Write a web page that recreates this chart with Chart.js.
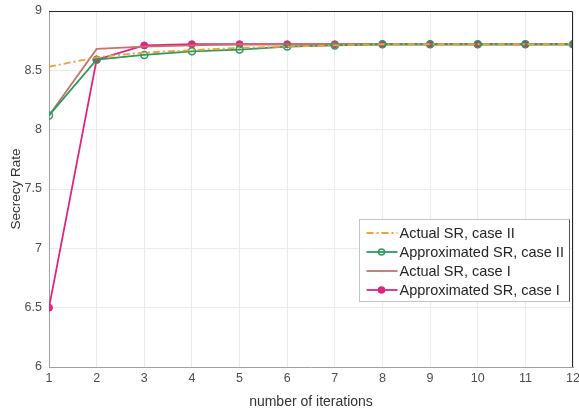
<!DOCTYPE html>
<html lang="en">
<head>
    <meta charset="UTF-8">
    <title>Secrecy Rate vs Iterations</title>
    <script src="https://cdn.jsdelivr.net/npm/chart.js"></script>
    <style>
        body { margin: 0; padding: 0; background: #ffffff; }
        .chart-container { position: relative; width: 579px; height: 411px; }
    </style>
</head>
<body>
    <div class="chart-container">
        <canvas id="srChart"></canvas>
    </div>

    <script>
        // values
        const iterations = [1, 2, 3, 4, 5, 6, 7, 8, 9, 10, 11, 12];
        const actualCaseII = [8.53, 8.61, 8.65, 8.67, 8.69, 8.70, 8.71, 8.72, 8.72, 8.72, 8.72, 8.72];
        const approxCaseII = [8.12, 8.59, 8.63, 8.66, 8.675, 8.70, 8.71, 8.72, 8.72, 8.72, 8.72, 8.72];
        const actualCaseI = [8.12, 8.68, 8.70, 8.71, 8.72, 8.72, 8.72, 8.72, 8.72, 8.72, 8.72, 8.72];
        const approxCaseI = [6.5, 8.59, 8.71, 8.72, 8.72, 8.72, 8.72, 8.72, 8.72, 8.72, 8.72, 8.72];
        const yTicks = [6, 6.5, 7, 7.5, 8, 8.5, 9];

        const seriesNames = ['Actual SR, case II', 'Approximated SR, case II', 'Actual SR, case I', 'Approximated SR, case I'];
        const colors = ['#eda23a', '#2e9a5c', '#c9706e', '#e0237f'];

        const toXY = arr => arr.map((v, i) => ({ x: iterations[i], y: v }));
        const fontFamily = '"Liberation Sans", Arial, sans-serif';

        // matlab style box + legend
        const boxAndLegend = {
            id: 'boxAndLegend',
            afterDraw(chart) {
                const { ctx, chartArea: a } = chart;
                ctx.save();
                ctx.strokeStyle = '#262626';
                ctx.lineWidth = 1;
                ctx.beginPath();
                ctx.moveTo(a.left, a.top + 0.5);
                ctx.lineTo(a.right - 0.5, a.top + 0.5);
                ctx.lineTo(a.right - 0.5, a.bottom);
                ctx.stroke();

                // legend
                const lx = 359.5, ly = 219.5, lw = 210, lh = 82;
                ctx.fillStyle = '#ffffff';
                ctx.fillRect(lx, ly, lw, lh);
                ctx.strokeStyle = '#c4c4c4';
                ctx.strokeRect(lx, ly, lw, lh);
                ctx.strokeStyle = '#555';
                ctx.beginPath();
                ctx.moveTo(lx + lw, ly);
                ctx.lineTo(lx + lw, ly + lh);
                ctx.stroke();

                ctx.font = '14.5px ' + fontFamily;
                ctx.textBaseline = 'middle';
                const rowY = [233, 252, 271, 290];
                chart.data.datasets.forEach((ds, i) => {
                    const y = rowY[i];
                    ctx.strokeStyle = ds.borderColor;
                    ctx.lineWidth = 1.8;
                    ctx.setLineDash(ds.borderDash || []);
                    ctx.beginPath();
                    ctx.moveTo(lx + 7, y);
                    ctx.lineTo(lx + 38, y);
                    ctx.stroke();
                    ctx.setLineDash([]);
                    if (ds.pointRadius > 0) {
                        ctx.beginPath();
                        ctx.arc(lx + 22, y, ds.pointRadius - 0.5, 0, Math.PI * 2);
                        ctx.fillStyle = ds.pointBackgroundColor;
                        ctx.fill();
                        ctx.strokeStyle = ds.pointBorderColor;
                        ctx.lineWidth = 1.5;
                        ctx.stroke();
                    }
                    ctx.fillStyle = '#262626';
                    ctx.fillText(ds.label, lx + 40, y + 1);
                });
                ctx.restore();
            }
        };

        const ctxSR = document.getElementById('srChart').getContext('2d');
        new Chart(ctxSR, {
            type: 'line',
            data: {
                datasets: [
                    {
                        label: seriesNames[0],
                        data: toXY(actualCaseII),
                        borderColor: colors[0],
                        borderWidth: 1.8,
                        borderDash: [7, 3, 2, 3],
                        pointRadius: 0,
                        fill: false,
                        tension: 0
                    },
                    {
                        label: seriesNames[1],
                        data: toXY(approxCaseII),
                        borderColor: colors[1],
                        borderWidth: 1.8,
                        pointRadius: 3.5,
                        pointBackgroundColor: 'rgba(255,255,255,0)',
                        pointBorderColor: colors[1],
                        pointBorderWidth: 1.5,
                        fill: false,
                        tension: 0
                    },
                    {
                        label: seriesNames[2],
                        data: toXY(actualCaseI),
                        borderColor: colors[2],
                        borderWidth: 1.8,
                        pointRadius: 0,
                        fill: false,
                        tension: 0
                    },
                    {
                        label: seriesNames[3],
                        data: toXY(approxCaseI),
                        borderColor: colors[3],
                        borderWidth: 1.8,
                        pointRadius: 3.5,
                        pointBackgroundColor: colors[3],
                        pointBorderColor: colors[3],
                        pointBorderWidth: 1,
                        fill: false,
                        tension: 0
                    }
                ]
            },
            options: {
                responsive: true,
                maintainAspectRatio: false,
                animation: false,
                layout: { padding: { top: 11, right: 6, left: 0, bottom: 0 } },
                plugins: {
                    legend: { display: false },
                    tooltip: { enabled: false }
                },
                scales: {
                    x: {
                        type: 'linear',
                        min: 1,
                        max: 12,
                        afterBuildTicks: axis => { axis.ticks = iterations.map(v => ({ value: v })); },
                        afterFit: axis => {
                            axis.height = 44;
                            axis.paddingRight = 0;
                            axis.paddingLeft = 0;
                        },
                        grid: { color: '#ebebeb', drawTicks: false, tickLength: 0 },
                        border: { color: '#a0a0a0' },
                        ticks: {
                            color: '#4d4d4d',
                            padding: 4,
                            callback: v => String(v),
                            font: { family: fontFamily, size: 12.5 }
                        },
                        title: {
                            display: true,
                            text: 'number of iterations',
                            color: '#333333',
                            padding: { top: 0, bottom: 0 },
                            font: { family: fontFamily, size: 14 }
                        }
                    },
                    y: {
                        min: 6,
                        max: 9,
                        afterBuildTicks: axis => { axis.ticks = yTicks.map(v => ({ value: v })); },
                        afterFit: axis => {
                            axis.width = 49;
                            axis.paddingTop = 0;
                            axis.paddingBottom = 0;
                        },
                        grid: { color: '#ebebeb', drawTicks: false, tickLength: 0 },
                        border: { color: '#a0a0a0' },
                        ticks: {
                            color: '#4d4d4d',
                            padding: 7,
                            callback: v => String(v),
                            font: { family: fontFamily, size: 12.5 }
                        },
                        title: {
                            display: true,
                            text: 'Secrecy Rate',
                            color: '#333333',
                            padding: { top: 8, bottom: 0 },
                            font: { family: fontFamily, size: 13.5 }
                        }
                    }
                }
            },
            plugins: [boxAndLegend]
        });
    </script>
</body>
</html>
